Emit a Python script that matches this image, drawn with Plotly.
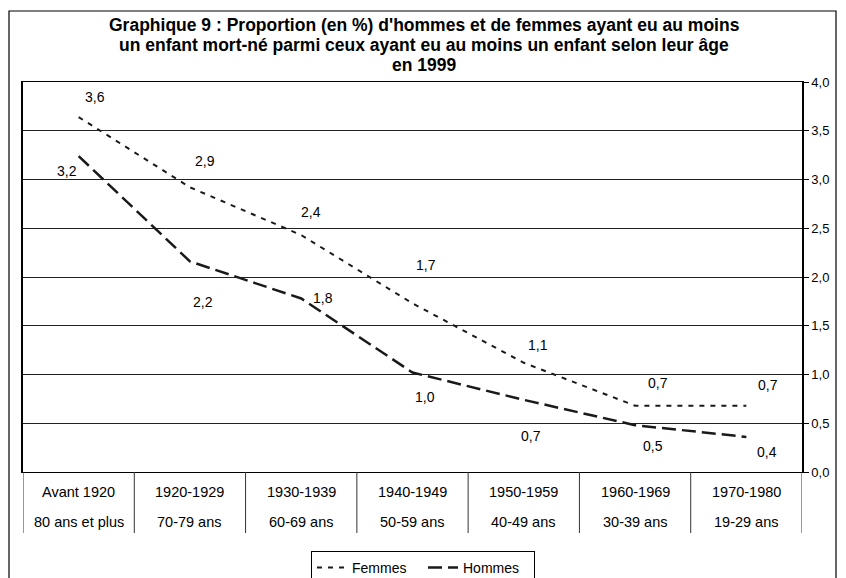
import plotly.graph_objects as go

# ---- data ----
periodes = ["Avant 1920", "1920-1929", "1930-1939", "1940-1949", "1950-1959", "1960-1969", "1970-1980"]
ages = ["80 ans et plus", "70-79 ans", "60-69 ans", "50-59 ans", "40-49 ans", "30-39 ans", "19-29 ans"]
femmes = [3.64, 2.92, 2.43, 1.73, 1.12, 0.68, 0.68]
hommes = [3.24, 2.16, 1.78, 1.02, 0.74, 0.48, 0.36]
y_ticks = [0, 0.5, 1, 1.5, 2, 2.5, 3, 3.5, 4]

# label offsets (pixels) relative to each point
fem_dx = [16, 15, 10, 13, 14, 23, 22]
fem_dy = [20, 26, 23, 38, 18, 23, 21]
hom_dx = [-12, 13, 22, 12, 7, 18, 21]
hom_dy = [-15, -41, 0, -24, -36, -21, -15]

FONT = "Liberation Sans, Arial, sans-serif"
OFF = 8  # page body margin
W, H = 846 - OFF, 578 - OFF
L, R, T, B = 23 - OFF, 44, 82 - OFF, 106
PW, PH = W - L - R, H - T - B


def px_x(p):
    return (p - OFF - L) / PW


def px_y(p):
    return (H - B - (p - OFF)) / PH


fig = go.Figure()
x_idx = list(range(len(periodes)))

fig.add_trace(go.Scatter(
    x=x_idx, y=femmes, name="Femmes", mode="lines",
    line=dict(color="#1a1a1a", width=2, dash="5px,6px"),
))
fig.add_trace(go.Scatter(
    x=x_idx, y=hommes, name="Hommes", mode="lines",
    line=dict(color="#1a1a1a", width=2.5, dash="14px,6px"),
))

annotations = []
for i, v in enumerate(femmes):
    annotations.append(dict(x=i, y=v, xref="x", yref="y", text=f"{v:.1f}".replace(".", ","),
                            showarrow=False, xshift=fem_dx[i], yshift=fem_dy[i],
                            font=dict(family=FONT, size=14, color="black")))
for i, v in enumerate(hommes):
    annotations.append(dict(x=i, y=v, xref="x", yref="y", text=f"{v:.1f}".replace(".", ","),
                            showarrow=False, xshift=hom_dx[i], yshift=hom_dy[i],
                            font=dict(family=FONT, size=14, color="black")))

# category table labels
for i in x_idx:
    annotations.append(dict(x=i, y=0, xref="x", yref="paper", text=periodes[i], showarrow=False,
                            yanchor="middle", yshift=-20,
                            font=dict(family=FONT, size=14.5, color="black")))
    annotations.append(dict(x=i, y=0, xref="x", yref="paper", text=ages[i], showarrow=False,
                            yanchor="middle", yshift=-50,
                            font=dict(family=FONT, size=14.5, color="black")))

# title
title_lines = [
    "Graphique 9 : Proportion (en %) d'hommes et de femmes ayant eu au moins",
    "un enfant mort-né parmi ceux ayant eu au moins un enfant selon leur âge",
    "en 1999",
]
for k, line in enumerate(title_lines):
    annotations.append(dict(x=px_x(424), y=px_y(25 + 20 * k), xref="paper", yref="paper",
                            text="<b>" + line + "</b>", showarrow=False,
                            xanchor="center", yanchor="middle",
                            font=dict(family=FONT, size=17.5, color="black")))

shapes = []
# table separators
for i in range(len(periodes) + 1):
    shapes.append(dict(type="line", xref="x", yref="paper", x0=i - 0.5, x1=i - 0.5,
                       y0=0, y1=px_y(533), line=dict(color="#333333", width=1)))
# outer border
shapes.append(dict(type="rect", xref="paper", yref="paper",
                   x0=px_x(9), x1=px_x(836), y0=px_y(600), y1=px_y(11),
                   line=dict(color="black", width=1.2), layer="below"))

fig.update_layout(
    width=W, height=H,
    margin=dict(l=L, r=R, t=T, b=B, autoexpand=False),
    paper_bgcolor="white", plot_bgcolor="white",
    separators=", ",
    showlegend=True,
    legend=dict(orientation="h", x=px_x(423), xanchor="center", y=px_y(551), yanchor="top",
                bordercolor="black", borderwidth=1, bgcolor="white",
                font=dict(family=FONT, size=14, color="black"),
                entrywidth=66, tracegroupgap=0),
    annotations=annotations,
    shapes=shapes,
    xaxis=dict(range=[-0.5, len(periodes) - 0.5], showticklabels=False, showgrid=False,
               zeroline=False, showline=True, linecolor="black", linewidth=1, mirror=True,
               ticks=""),
    yaxis=dict(range=[0, 4], side="right", tickvals=y_ticks, tickformat=".1f",
               showgrid=True, gridcolor="#222222", gridwidth=1,
               zeroline=False, showline=True, linecolor="black", linewidth=1.5, mirror=True,
               ticks="outside", ticklen=5, tickcolor="black",
               tickfont=dict(family=FONT, size=13, color="black")),
)

fig.write_html("out.html")
